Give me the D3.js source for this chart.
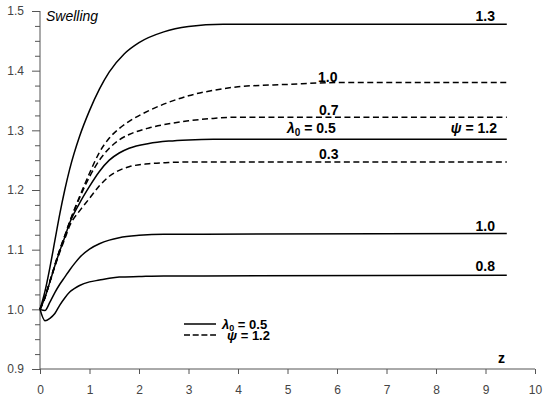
<!DOCTYPE html>
<html>
<head>
<meta charset="utf-8">
<script src="https://cdn.jsdelivr.net/npm/d3@7"></script>
<style>
  body { margin: 0; background: #fff; }
  svg text { font-family: "Liberation Sans", Arial, sans-serif; }
</style>
</head>
<body>
<div class="chart"></div>
<script>
// values
const zTop = [0, 0.1, 0.2, 0.3, 0.4, 0.5, 0.6, 0.8, 1.0, 1.2, 1.4, 1.7, 2.0, 2.5, 3.0, 3.7, 9.43];
const solid13 = [1.0, 1.03, 1.07, 1.115, 1.16, 1.20, 1.235, 1.29, 1.333, 1.369, 1.398, 1.428, 1.447, 1.465, 1.474, 1.478, 1.478];

const zMid = [0, 0.1, 0.2, 0.3, 0.4, 0.5, 0.6, 0.8, 1.0, 1.2, 1.4, 1.6, 1.8, 2.2, 2.6, 3.0, 3.5, 4.0, 5.0, 6.0, 9.43];
const dashed10 = [1.0, 1.02, 1.047, 1.074, 1.100, 1.123, 1.147, 1.189, 1.228, 1.263, 1.287, 1.303, 1.315, 1.333, 1.347, 1.358, 1.367, 1.373, 1.377, 1.380, 1.380];
const dashed07 = [1.0, 1.02, 1.047, 1.074, 1.100, 1.123, 1.146, 1.187, 1.222, 1.250, 1.270, 1.284, 1.293, 1.304, 1.311, 1.316, 1.320, 1.322, 1.322, 1.322, 1.322];
const solid05 = [1.0, 1.02, 1.046, 1.073, 1.098, 1.121, 1.145, 1.178, 1.206, 1.231, 1.250, 1.262, 1.270, 1.278, 1.282, 1.284, 1.285, 1.285, 1.285, 1.285, 1.285];
const dashed03 = [1.0, 1.02, 1.046, 1.072, 1.096, 1.118, 1.140, 1.165, 1.186, 1.207, 1.223, 1.233, 1.239, 1.244, 1.246, 1.247, 1.247, 1.247, 1.247, 1.247, 1.247];

const zLow = [0, 0.1, 0.2, 0.3, 0.4, 0.5, 0.6, 0.7, 0.8, 1.0, 1.2, 1.4, 1.6, 2.0, 2.5, 3.2, 9.43];
const solid10 = [1.0, 0.998, 1.012, 1.028, 1.042, 1.054, 1.066, 1.077, 1.087, 1.101, 1.110, 1.116, 1.120, 1.124, 1.126, 1.126, 1.127];
const solid08 = [1.0, 0.981, 0.985, 0.993, 1.007, 1.019, 1.029, 1.035, 1.040, 1.046, 1.049, 1.052, 1.054, 1.055, 1.056, 1.056, 1.057];

const xTicks = [0, 1, 2, 3, 4, 5, 6, 7, 8, 9, 10];
const yTicks = [0.9, 1.0, 1.1, 1.2, 1.3, 1.4, 1.5];

const series = [
  { z: zTop, v: solid13, dash: null },
  { z: zMid, v: dashed10, dash: "6,3.5" },
  { z: zMid, v: dashed07, dash: "6,3.5" },
  { z: zMid, v: solid05, dash: null },
  { z: zMid, v: dashed03, dash: "6,3.5" },
  { z: zLow, v: solid10, dash: null },
  { z: zLow, v: solid08, dash: null }
];

const width = 550, height = 399;
const x = d3.scaleLinear().domain([0, 10]).range([40, 535]);
const y = d3.scaleLinear().domain([0.9, 1.5]).range([369, 11]);

const svg = d3.select(".chart").append("svg")
  .attr("width", width).attr("height", height);

const axisColor = "#555";

// y axis, major and minor ticks
const yAxis = svg.append("g").attr("transform", "translate(40,0)")
  .call(d3.axisLeft(y).tickValues(yTicks).tickFormat(d3.format(".1f")).tickSize(8).tickPadding(8));
const minorVals = d3.range(0.925, 1.5, 0.025).filter(d => Math.abs(d * 10 - Math.round(d * 10)) > 0.01);
const yMinor = svg.append("g").attr("transform", "translate(40,0)")
  .call(d3.axisLeft(y).tickValues(minorVals).tickFormat("").tickSize(5));
yMinor.select(".domain").remove();

// x axis
const xAxis = svg.append("g").attr("transform", "translate(0,369)")
  .call(d3.axisBottom(x).tickValues(xTicks).tickFormat(d3.format("d")).tickSize(5).tickPadding(11));

[yAxis, yMinor, xAxis].forEach(g => {
  g.selectAll(".domain").attr("stroke", axisColor);
  g.selectAll(".tick line").attr("stroke", axisColor);
  g.selectAll(".tick text").attr("fill", "#444").style("font-size", "12px");
});
// plain axis lines, no end caps
yAxis.select(".domain").attr("d", `M0,${y(1.5)}V${y(0.9)}`);
xAxis.select(".domain").attr("d", `M${x(0)},0H${x(10)}`);

// curves
const line = d3.line()
  .x(d => x(d[0]))
  .y(d => y(d[1]))
  .curve(d3.curveMonotoneX);

series.forEach(s => {
  svg.append("path")
    .datum(s.z.map((z, i) => [z, s.v[i]]))
    .attr("d", line)
    .attr("fill", "none")
    .attr("stroke", "#000")
    .attr("stroke-width", 1.5)
    .attr("stroke-dasharray", s.dash);
});

// curve labels
const bold = (sel, size) => sel.attr("font-weight", "bold").style("font-size", (size || 14) + "px").attr("fill", "#000");
svg.append("text").call(bold).attr("x", 495).attr("y", 21).attr("text-anchor", "end").text("1.3");
svg.append("text").call(bold).attr("x", 318).attr("y", 82).text("1.0");
svg.append("text").call(bold).attr("x", 319).attr("y", 115).text("0.7");
svg.append("text").call(bold).attr("x", 319).attr("y", 159).text("0.3");
svg.append("text").call(bold).attr("x", 495).attr("y", 231).attr("text-anchor", "end").text("1.0");
svg.append("text").call(bold).attr("x", 495).attr("y", 271).attr("text-anchor", "end").text("0.8");

const lam = svg.append("text").call(bold).attr("x", 287).attr("y", 133);
lam.append("tspan").attr("font-style", "italic").text("λ");
lam.append("tspan").attr("dy", 3).style("font-size", "10px").text("0");
lam.append("tspan").attr("dy", -3).text(" = 0.5");

const psi = svg.append("text").call(bold).attr("x", 497).attr("y", 133).attr("text-anchor", "end");
psi.append("tspan").attr("font-style", "italic").text("ψ");
psi.append("tspan").text(" = 1.2");

// axis titles
svg.append("text").attr("x", 46).attr("y", 21).attr("font-style", "italic")
  .style("font-size", "14px").attr("fill", "#000").text("Swelling");
svg.append("text").attr("x", 498).attr("y", 363).attr("font-weight", "bold")
  .style("font-size", "14px").attr("fill", "#000").text("z");

// legend
svg.append("line").attr("x1", 184).attr("x2", 216).attr("y1", 324).attr("y2", 324)
  .attr("stroke", "#000").attr("stroke-width", 1.5);
svg.append("line").attr("x1", 184).attr("x2", 216).attr("y1", 335).attr("y2", 335)
  .attr("stroke", "#000").attr("stroke-width", 1.5).attr("stroke-dasharray", "6,2.7");

const lg1 = svg.append("text").call(bold, 13).attr("x", 222).attr("y", 328.5);
lg1.append("tspan").attr("font-style", "italic").text("λ");
lg1.append("tspan").attr("dy", 2.5).style("font-size", "9px").text("0");
lg1.append("tspan").attr("dy", -2.5).text(" = 0.5");

const lg2 = svg.append("text").call(bold, 13).attr("x", 227).attr("y", 340);
lg2.append("tspan").attr("font-style", "italic").text("ψ");
lg2.append("tspan").text(" = 1.2");
</script>
</body>
</html>
